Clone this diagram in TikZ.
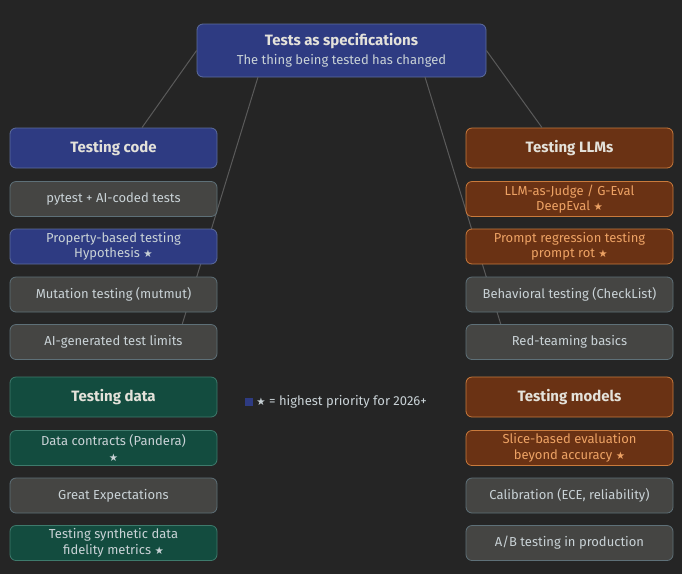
\documentclass[tikz,border=0pt]{standalone}
\usepackage{fontspec}
\setmainfont{Fira Sans}
\newfontfamily\symfont{DejaVu Sans}
\usetikzlibrary{positioning}
\newcommand{\prio}{{\symfont\scalebox{0.8}{★}}}
\definecolor{bgc}{HTML}{252525}
\definecolor{bluef}{HTML}{2E3B82}
\definecolor{blued}{HTML}{5C6C9C}
\definecolor{grayf}{HTML}{454543}
\definecolor{grayd}{HTML}{5E7078}
\definecolor{orgf}{HTML}{6A3214}
\definecolor{orgd}{HTML}{C97A3C}
\definecolor{orgt}{HTML}{EDA264}
\definecolor{grnf}{HTML}{134C3F}
\definecolor{grnd}{HTML}{3E7A6C}
\definecolor{txt}{HTML}{C9D2D6}
\definecolor{head}{HTML}{E4E2DA}
\definecolor{wire}{HTML}{5A5A5A}
\tikzset{
  box/.style={rectangle, rounded corners=6pt, minimum width=207pt, line width=0.8pt,
    text=txt, align=center, font=\fontsize{13}{15.5}\selectfont, inner sep=0pt},
  item/.style={box, minimum height=35pt},
  head/.style={box, minimum height=40pt, text=head, font=\fontsize{15}{17}\selectfont\bfseries},
  blue/.style={fill=bluef, draw=blued},
  gray/.style={fill=grayf, draw=grayd},
  org/.style={fill=orgf, draw=orgd, text=orgt},
  orghead/.style={fill=orgf, draw=orgd},
  grn/.style={fill=grnf, draw=grnd},
  wire/.style={draw=wire, line width=1pt}
}
\begin{document}
\begin{tikzpicture}[x=1pt, y=-1pt]
  \fill[bgc] (0,0) rectangle (682,574);
  \useasboundingbox (0,0) rectangle (682,574);

  % root
  \node[box, blue, minimum width=289pt, minimum height=53pt] (root) at (341.5,50.5)
    {{\fontsize{15}{17}\selectfont\bfseries\color{head}Tests as specifications}\\[3pt]The thing being tested has changed};

  % hidden ends of the long connectors
  \coordinate (lend) at (178,338);
  \coordinate (rend) at (505,338);
  \coordinate (lstart) at (258,77);
  \coordinate (rstart) at (425,77);
  \draw[wire] (lstart) -- (lend);
  \draw[wire] (rstart) -- (rend);

  % left column
  \node[head, blue] (code) at (113.5,148) {Testing code};
  \node[item, gray] (pytest) at (113.5,199) {pytest + AI-coded tests};
  \node[item, blue] (prop) at (113.5,246.5) {Property-based testing\\Hypothesis \prio};
  \node[item, gray] (mut) at (113.5,294.5) {Mutation testing (mutmut)};
  \node[item, gray] (aigen) at (113.5,342) {AI-generated test limits};
  \node[head, grn] (data) at (113.5,397) {Testing data};
  \node[item, grn] (contr) at (113.5,448) {Data contracts (Pandera)\\\prio};
  \node[item, gray] (great) at (113.5,495.5) {Great Expectations};
  \node[item, grn] (synth) at (113.5,543) {Testing synthetic data\\fidelity metrics \prio};

  % right column
  \node[head, orghead] (llm) at (569.5,148) {Testing LLMs};
  \node[item, org] (judge) at (569.5,199) {LLM-as-Judge / G-Eval\\DeepEval \prio};
  \node[item, org] (prompt) at (569.5,246.5) {Prompt regression testing\\prompt rot \prio};
  \node[item, gray] (behav) at (569.5,294.5) {Behavioral testing (CheckList)};
  \node[item, gray] (red) at (569.5,342) {Red-teaming basics};
  \node[head, orghead] (models) at (569.5,397) {Testing models};
  \node[item, org] (slice) at (569.5,448) {Slice-based evaluation\\beyond accuracy \prio};
  \node[item, gray] (calib) at (569.5,495.5) {Calibration (ECE, reliability)};
  \node[item, gray] (ab) at (569.5,543) {A/B testing in production};

  \draw[wire] (root.west) -- (code.north -| 142,0);
  \draw[wire] (root.east) -- (llm.north -| 542,0);

  % legend
  \node[fill=bluef, minimum size=8pt, inner sep=0pt] (key) at (249,402) {};
  \node[right=3pt of key, text=txt, font=\fontsize{13}{15}\selectfont, inner sep=0pt] (keytxt)
    {\prio{} = highest priority for 2026+};
\end{tikzpicture}
\end{document}
